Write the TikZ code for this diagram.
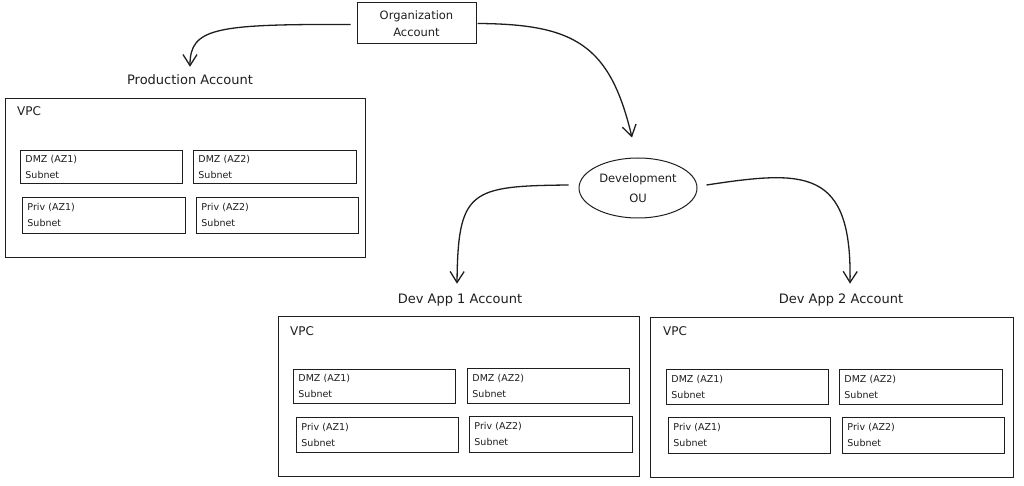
\documentclass[tikz,border=0pt]{standalone}
\usepackage{fontspec}
\setmainfont{DejaVu Sans}
\usetikzlibrary{arrows.meta,shapes.geometric}
\definecolor{ink}{HTML}{1E1E1E}
\newcommand{\subbox}[6]{%
  \node[sub, text width=#4pt, minimum height=#5pt] (#1) at (#2,#3) {#6\\Subnet};}
\begin{document}
\begin{tikzpicture}[x=1pt,y=-1pt,
  acct/.style={draw=ink, line width=1pt, minimum width=119pt, minimum height=41pt, inner sep=0pt, align=center, text=ink, font=\fontsize{11.5}{17}\selectfont},
  ou/.style={ellipse, draw=ink, line width=1pt, minimum width=118pt, minimum height=60pt, inner sep=0pt, align=center, text=ink, font=\fontsize{11.5}{20}\selectfont},
  lbl/.style={text=ink, inner sep=0pt, font=\fontsize{13}{15}\selectfont},
  vpcbox/.style={draw=ink, line width=1.1pt, anchor=north west, inner sep=0pt},
  vpclbl/.style={anchor=base west, text=ink, inner sep=0pt, font=\fontsize{12}{14}\selectfont},
  sub/.style={draw=ink, line width=0.9pt, anchor=north west, align=left, inner xsep=5pt, inner ysep=0pt, text=ink, font=\fontsize{9.5}{16}\selectfont},
  arr/.style={draw=ink, line width=1.3pt, -{Straight Barb[length=11pt,width=14pt]}}
]
\useasboundingbox (0,0) rectangle (1024,486);

% top level
\node[acct] (org) at (416.5,23.5) {Organization\\Account};
\node[ou] (dev) at (638,188) {Development\\OU};

% labels
\node[lbl] (prodlbl) at (190,80) {Production Account};
\node[lbl] (dev1lbl) at (460,300) {Dev App 1 Account};
\node[lbl] (dev2lbl) at (841,300) {Dev App 2 Account};

% VPC boxes
\node[vpcbox, minimum width=360pt, minimum height=159pt] (prodvpc) at (5,98) {};
\node[vpcbox, minimum width=361pt, minimum height=160pt] (dev1vpc) at (278,316) {};
\node[vpcbox, minimum width=363pt, minimum height=160pt] (dev2vpc) at (650,317) {};
\node[vpclbl] (prodvpcl) at (17,116) {VPC};
\node[vpclbl] (dev1vpcl) at (290,335) {VPC};
\node[vpclbl] (dev2vpcl) at (663,335) {VPC};

% subnets: production
\subbox{p1}{20}{150}{152}{33}{DMZ (AZ1)}
\subbox{p2}{193}{150}{153}{33}{DMZ (AZ2)}
\subbox{p3}{22}{197}{153}{36}{Priv (AZ1)}
\subbox{p4}{196}{197}{152}{36}{Priv (AZ2)}
% subnets: dev app 1
\subbox{a1}{293}{369}{152}{34}{DMZ (AZ1)}
\subbox{a2}{467}{368}{152}{35}{DMZ (AZ2)}
\subbox{a3}{296}{417}{152}{35}{Priv (AZ1)}
\subbox{a4}{469}{416}{153}{36}{Priv (AZ2)}
% subnets: dev app 2
\subbox{b1}{666}{369}{152}{35}{DMZ (AZ1)}
\subbox{b2}{839}{369}{153}{35}{DMZ (AZ2)}
\subbox{b3}{668}{417}{152}{36}{Priv (AZ1)}
\subbox{b4}{842}{417}{152}{36}{Priv (AZ2)}

% connectors
\draw[arr] ([shift={(-6pt,-1pt)}]org.west) .. controls (215,24) and (190,28) .. ([yshift=8pt]prodlbl.north);
\draw[arr] ([shift={(1pt,0pt)}]org.east) .. controls (575,24) and (610,45) .. ([shift={(-6pt,20pt)}]dev.north);
\draw[arr] ([shift={(-10pt,3pt)}]dev.west) .. controls (470,186) and (458,190) .. ([shift={(-3pt,10pt)}]dev1lbl.north);
\draw[arr] ([shift={(9pt,3pt)}]dev.east) .. controls (805,170) and (852,168) .. ([shift={(9pt,10pt)}]dev2lbl.north);
\end{tikzpicture}
\end{document}
